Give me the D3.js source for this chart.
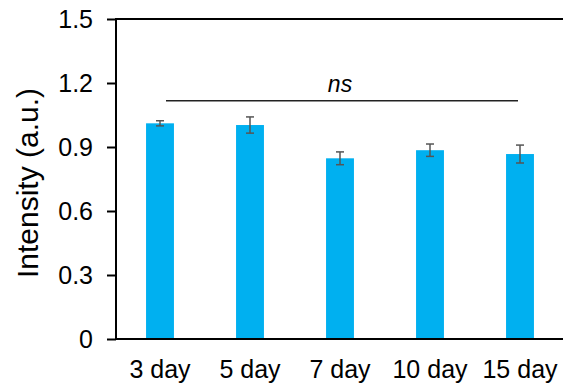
<!DOCTYPE html>
<html>
  <head>
    <script src="https://d3js.org/d3.v7.min.js"></script>
    <style>
      html, body {
        margin: 0;
        padding: 0;
        overflow: hidden;
        background: #fff;
      }
      text {
        font-family: "Liberation Sans", Arial, sans-serif;
        fill: #000;
      }
    </style>
  </head>
  <body>
    <div id="chart"></div>
    <script>
      // Data
      const days = ["3 day", "5 day", "7 day", "10 day", "15 day"];
      const intensity = [1.011, 1.003, 0.847, 0.885, 0.867];
      const errors = [0.012, 0.038, 0.030, 0.029, 0.042];
      const yTicks = [0, 0.3, 0.6, 0.9, 1.2, 1.5];
      const nsLevel = 1.117;

      const width = 563, height = 389;
      const plotLeft = 116, plotTop = 19, plotBottom = 339;

      const svg = d3.select("#chart")
        .append("svg")
        .attr("width", width)
        .attr("height", height);

      const x = d3.scaleBand()
        .domain(days)
        .range([115, 565])
        .paddingInner(0.69)
        .paddingOuter(0.345);

      const y = d3.scaleLinear()
        .domain([0, 1.5])
        .range([plotBottom, plotTop]);

      // Bars
      svg.append("g")
        .selectAll("rect")
        .data(days)
        .enter()
        .append("rect")
        .attr("x", d => x(d))
        .attr("y", (d, i) => y(intensity[i]))
        .attr("width", x.bandwidth())
        .attr("height", (d, i) => y(0) - y(intensity[i]))
        .attr("fill", "#00b0f0");

      // Error bars
      const eb = svg.append("g")
        .attr("stroke", "#555")
        .attr("stroke-width", 1.5);
      days.forEach((d, i) => {
        const cx = x(d) + x.bandwidth() / 2;
        const y1 = y(intensity[i] + errors[i]);
        const y2 = y(intensity[i] - errors[i]);
        eb.append("line").attr("x1", cx).attr("x2", cx).attr("y1", y1).attr("y2", y2);
        eb.append("line").attr("x1", cx - 4).attr("x2", cx + 4).attr("y1", y1).attr("y2", y1);
        eb.append("line").attr("x1", cx - 4).attr("x2", cx + 4).attr("y1", y2).attr("y2", y2);
      });

      // Y axis
      const yAxis = svg.append("g")
        .attr("transform", `translate(${plotLeft},0)`)
        .call(d3.axisLeft(y).tickValues(yTicks).tickSize(9).tickPadding(14)
          .tickFormat(d => d === 0 ? "0" : d3.format(".1f")(d)));
      yAxis.select(".domain").remove();
      yAxis.selectAll(".tick line").attr("stroke", "#000").attr("stroke-width", 2);
      yAxis.selectAll(".tick text")
        .style("font-size", "25px")
        .style("font-family", "'Liberation Sans', Arial, sans-serif");

      const frame = svg.append("g").attr("stroke", "#000").attr("stroke-width", 2);
      frame.append("line").attr("x1", plotLeft).attr("x2", plotLeft).attr("y1", y(1.5) - 1).attr("y2", y(0) + 1);
      frame.append("line").attr("x1", plotLeft).attr("x2", width).attr("y1", y(1.5)).attr("y2", y(1.5));
      frame.append("line").attr("x1", plotLeft).attr("x2", width).attr("y1", y(0)).attr("y2", y(0));

      // X labels
      svg.append("g")
        .selectAll("text")
        .data(days)
        .enter()
        .append("text")
        .attr("x", d => x(d) + x.bandwidth() / 2)
        .attr("y", 378)
        .attr("text-anchor", "middle")
        .style("font-size", "25px")
        .text(d => d);

      // ns bracket
      const nsY = y(nsLevel);
      svg.append("line")
        .attr("x1", x(days[0]) + x.bandwidth() / 2 + 6)
        .attr("x2", x(days[4]) + x.bandwidth() / 2 - 2)
        .attr("y1", nsY).attr("y2", nsY)
        .attr("stroke", "#222")
        .attr("stroke-width", 1.5);
      svg.append("text")
        .attr("x", x(days[2]) + x.bandwidth() / 2)
        .attr("y", nsY - 9)
        .attr("text-anchor", "middle")
        .style("font-size", "23px")
        .style("font-style", "italic")
        .text("ns");

      // Y title
      svg.append("text")
        .attr("transform", "translate(38,183) rotate(-90)")
        .attr("text-anchor", "middle")
        .style("font-size", "30px")
        .text("Intensity (a.u.)");
    </script>
  </body>
</html>
